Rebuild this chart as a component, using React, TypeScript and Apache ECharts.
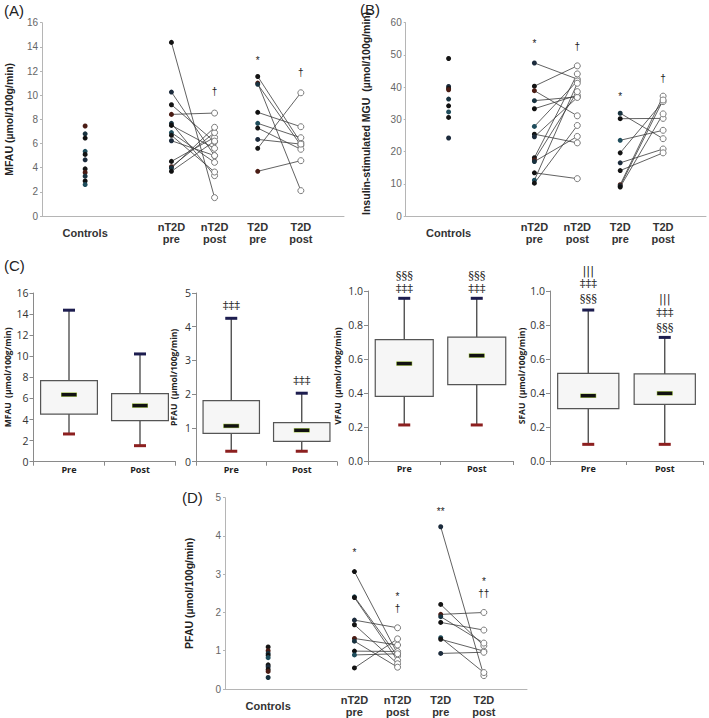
import React, { useEffect, useRef } from 'react';
import * as echarts from 'echarts';

// ---------- categories ----------
const groupCats = ['', 'Controls', '', 'nT2D\npre', 'nT2D\npost', 'T2D\npre', 'T2D\npost', ''];
const boxCats = ['Pre', 'Post'];

// ---------- Panel A: MFAU ----------
const aControls = [7.45, 6.8, 6.45, 5.35, 5.1, 4.65, 3.9, 3.6, 3.3, 2.9, 2.6];
const aNPre = [14.37, 10.26, 9.21, 8.41, 7.67, 7.5, 6.9, 6.68, 6.23, 4.52, 4.08, 3.97, 3.7];
const aNPost = [1.52, 4.99, 6.15, 8.52, 3.34, 5.6, 4.44, 3.64, 5.0, 6.51, 6.9, 7.34, 6.2];
const aTPre = [11.55, 11.0, 10.9, 8.58, 7.67, 7.28, 6.34, 5.6, 3.7];
const aTPost = [6.07, 2.1, 5.85, 7.39, 6.48, 5.52, 5.95, 10.2, 4.58];
const aMarkPos = [[5, 12.9], [4, 10.3], [6, 11.85]];
const aMarkText = ['*', '†', '†'];

// ---------- Panel B: insulin-stimulated MGU ----------
const bControls = [48.9, 40.2, 39.6, 39.2, 36.3, 34.2, 32.3, 30.6, 24.2];
const bNPre = [47.5, 40.3, 38.9, 35.8, 33.3, 27.8, 25.4, 24.6, 18.1, 17.4, 16.9, 13.4, 11.1, 10.2];
const bNPost = [42.5, 46.6, 31.1, 37.0, 37.5, 41.9, 22.7, 36.8, 44.1, 38.6, 24.7, 11.6, 41.2, 28.1];
const bTPre = [31.9, 30.2, 23.5, 19.6, 16.5, 14.1, 9.7, 9.3, 9.0];
const bTPost = [24.0, 30.3, 26.6, 35.5, 20.8, 19.6, 37.2, 36.0, 31.7];
const bMarkPos = [[3, 53.5], [4, 52.5], [5, 37], [6, 42.6]];
const bMarkText = ['*', '†', '*', '†'];

// ---------- Panel C: box plots [min, q1, median, q3, max] ----------
const mfauBox = [[2.63, 4.52, 6.36, 7.69, 14.37], [1.52, 3.89, 5.32, 6.46, 10.22]];
const pfauBox = [[0.31, 0.84, 1.06, 1.81, 4.25], [0.31, 0.6, 0.93, 1.16, 2.03]];
const vfauBox = [[0.212, 0.38, 0.573, 0.714, 0.957], [0.212, 0.449, 0.62, 0.729, 0.957]];
const sfauBox = [[0.098, 0.308, 0.384, 0.516, 0.888], [0.098, 0.333, 0.398, 0.512, 0.727]];
const pfauMarkPos = [[0, 4.65], [1, 2.42]];
const pfauMarkText = ['‡‡‡', '‡‡‡'];
const vfauMarkPos = [[0, 1.094], [0, 1.018], [1, 1.094], [1, 1.018]];
const vfauMarkText = ['§§§', '‡‡‡', '§§§', '‡‡‡'];
const sfauMarkPos = [[0, 1.124], [0, 1.045], [0, 0.958], [1, 0.958], [1, 0.876], [1, 0.79]];
const sfauMarkText = ['|||', '‡‡‡', '§§§', '|||', '‡‡‡', '§§§'];

// ---------- Panel D: PFAU ----------
const dControls = [1.1, 1.0, 0.93, 0.88, 0.82, 0.63, 0.58, 0.51, 0.46, 0.3];
const dNPre = [3.07, 2.41, 2.39, 1.8, 1.68, 1.32, 1.25, 0.99, 0.89, 0.55];
const dNPost = [0.92, 0.86, 0.75, 1.6, 0.66, 1.15, 0.57, 0.98, 0.92, 1.31];
const dTPre = [4.24, 2.21, 1.95, 1.89, 1.74, 1.34, 1.3, 0.93];
const dTPost = [0.35, 1.13, 2.0, 1.2, 1.54, 0.43, 0.99, 0.96];
const dMarkPos = [[3, 3.57], [4, 2.43], [4, 2.1], [5, 4.64], [6, 2.8], [6, 2.5]];
const dMarkText = ['*', '*', '†', '**', '*', '††'];

// ---------- styles ----------
const dotPalette = ['#141414', '#1c2b3c', '#151515', '#4a1c14', '#18323f', '#101010', '#1f4d5c'];
const SANS = 'Liberation Sans';
const BOXFONT = 'Open Sans';

function scatterAxes(gi: number, max: number, interval: number, name: string, nameGap: number, namePad: number) {
  const x = {
    gridIndex: gi,
    type: 'category',
    data: groupCats,
    boundaryGap: false,
    axisLine: { lineStyle: { color: '#b5b5b5' } },
    axisTick: { show: false },
    axisLabel: {
      interval: 0,
      fontFamily: SANS,
      fontWeight: 'bold',
      fontSize: 11,
      color: '#333',
      lineHeight: 12,
      verticalAlign: 'middle',
      margin: 17,
    },
  };
  const y = {
    gridIndex: gi,
    type: 'value',
    min: 0,
    max,
    interval,
    axisLine: { show: true, lineStyle: { color: '#b5b5b5' } },
    axisTick: { show: true, length: 2, lineStyle: { color: '#b5b5b5' } },
    splitLine: { show: false },
    axisLabel: { fontFamily: SANS, fontSize: 10, color: '#666', margin: 4 },
    name,
    nameLocation: 'middle',
    nameGap,
    nameTextStyle: {
      fontFamily: SANS,
      fontWeight: 'bold',
      fontSize: 10.5,
      color: '#222',
      padding: [0, 0, 0, namePad],
    },
  };
  return { x, y };
}

function pairLines(gi: number, xPre: number, pre: number[], post: number[]) {
  return {
    type: 'custom',
    xAxisIndex: gi,
    yAxisIndex: gi,
    z: 1,
    data: pre.map((v, i) => [xPre, v, xPre + 1, post[i]]),
    renderItem: (params: any, api: any) => {
      const p1 = api.coord([api.value(0), api.value(1)]);
      const p2 = api.coord([api.value(2), api.value(3)]);
      return {
        type: 'line',
        shape: { x1: p1[0], y1: p1[1], x2: p2[0], y2: p2[1] },
        style: { stroke: '#3a3a3a', lineWidth: 0.8 },
      };
    },
  };
}

function filledDots(gi: number, x: number, vals: number[], offset: number) {
  return {
    type: 'scatter',
    xAxisIndex: gi,
    yAxisIndex: gi,
    z: 3,
    symbol: 'circle',
    symbolSize: 5,
    data: vals.map((v) => [x, v]),
    itemStyle: {
      color: (p: any) => dotPalette[(p.dataIndex + offset) % dotPalette.length],
      opacity: 1,
    },
  };
}

function hollowDots(gi: number, x: number, vals: number[]) {
  return {
    type: 'scatter',
    xAxisIndex: gi,
    yAxisIndex: gi,
    z: 3,
    symbol: 'circle',
    symbolSize: 6,
    data: vals.map((v) => [x, v]),
    itemStyle: { color: '#ffffff', borderColor: '#7a7a7a', borderWidth: 1, opacity: 1 },
  };
}

function marks(gi: number, pos: number[][], texts: string[], font: string, color: string) {
  return {
    type: 'custom',
    xAxisIndex: gi,
    yAxisIndex: gi,
    z: 4,
    clip: false,
    data: pos,
    renderItem: (params: any, api: any) => {
      const p = api.coord([api.value(0), api.value(1)]);
      return {
        type: 'text',
        x: p[0],
        y: p[1],
        style: {
          text: texts[params.dataIndex],
          align: 'center',
          verticalAlign: 'middle',
          font,
          fill: color,
        },
      };
    },
  };
}

function boxSeries(gi: number, boxes: number[][]) {
  return {
    type: 'custom',
    xAxisIndex: gi,
    yAxisIndex: gi,
    z: 2,
    data: boxes.map((b, i) => [i, ...b]),
    renderItem: (params: any, api: any) => {
      const c = api.value(0);
      const pMin = api.coord([c, api.value(1)]);
      const pQ1 = api.coord([c, api.value(2)]);
      const pMed = api.coord([c, api.value(3)]);
      const pQ3 = api.coord([c, api.value(4)]);
      const pMax = api.coord([c, api.value(5)]);
      const band = api.size([1, 0])[0];
      const bw = band * 0.8;
      const x = pMin[0];
      return {
        type: 'group',
        children: [
          {
            type: 'line',
            shape: { x1: x, y1: pMax[1], x2: x, y2: pMin[1] },
            style: { stroke: '#444', lineWidth: 1.3 },
          },
          {
            type: 'rect',
            shape: { x: x - bw / 2, y: pQ3[1], width: bw, height: pQ1[1] - pQ3[1] },
            style: { fill: '#f6f6f6', stroke: '#555', lineWidth: 1.2 },
          },
          {
            type: 'line',
            shape: { x1: x - 6, y1: pMax[1], x2: x + 6, y2: pMax[1] },
            style: { stroke: '#1d1d4f', lineWidth: 3 },
          },
          {
            type: 'line',
            shape: { x1: x - 6, y1: pMin[1], x2: x + 6, y2: pMin[1] },
            style: { stroke: '#8c1f1f', lineWidth: 3 },
          },
          {
            type: 'line',
            shape: { x1: x - 8, y1: pMed[1], x2: x + 8, y2: pMed[1] },
            style: { stroke: '#a4c64a', lineWidth: 4.4 },
          },
          {
            type: 'line',
            shape: { x1: x - 7.5, y1: pMed[1], x2: x + 7.5, y2: pMed[1] },
            style: { stroke: '#111', lineWidth: 3.4 },
          },
        ],
      };
    },
  };
}

function boxAxes(gi: number, max: number, interval: number, decimals: number, name: string, nameGap: number) {
  const x = {
    gridIndex: gi,
    type: 'category',
    data: boxCats,
    boundaryGap: true,
    axisLine: { lineStyle: { color: '#8a8a8a' } },
    axisTick: { show: true, length: 4, alignWithLabel: false, lineStyle: { color: '#8a8a8a' } },
    axisLabel: { fontFamily: BOXFONT, fontWeight: 'bold', fontSize: 9, color: '#222', margin: 3 },
  };
  const y = {
    gridIndex: gi,
    type: 'value',
    min: 0,
    max,
    interval,
    axisLine: { show: true, lineStyle: { color: '#8a8a8a' } },
    axisTick: { show: true, length: 4, lineStyle: { color: '#8a8a8a' } },
    splitLine: { show: false },
    axisLabel: {
      fontFamily: BOXFONT,
      fontSize: 10.5,
      color: '#333',
      margin: 5,
      formatter: (v: number) => v.toFixed(decimals),
    },
    name,
    nameLocation: 'middle',
    nameGap,
    nameTextStyle: { fontFamily: BOXFONT, fontWeight: 'bold', fontSize: 8.5, color: '#222' },
  };
  return { x, y };
}

export default function App() {
  const ref = useRef<HTMLDivElement>(null);
  useEffect(() => {
    if (!ref.current) return;
    const chart = echarts.init(ref.current, undefined, { renderer: 'svg' });

    const A = scatterAxes(0, 16, 2, 'MFAU (µmol/100g/min)', 28, 0);
    const B = scatterAxes(1, 60, 10, 'Insulin-stimulated MGU  (µmol/100g/min)', 34, 12);
    const C1 = boxAxes(2, 16, 2, 0, 'MFAU  (µmol/100g/min)', 22);
    const C2 = boxAxes(3, 5, 1, 0, 'PFAU  (µmol/100g/min)', 18);
    const C3 = boxAxes(4, 1, 0.2, 1, 'VFAU  (µmol/100g/min)', 26);
    const C4 = boxAxes(5, 1, 0.2, 1, 'SFAU  (µmol/100g/min)', 21);
    const D = scatterAxes(6, 5, 1, 'PFAU (µmol/100g/min)', 31, 0);

    const markFontA = `10px ${SANS}`;
    const markFontC = `11.5px "DejaVu Serif"`;

    const option: any = {
      animation: false,
      backgroundColor: '#ffffff',
      grid: [
        { left: 42, top: 22.7, width: 302, height: 193.3 },
        { left: 405.7, top: 22.7, width: 302, height: 193.3 },
        { left: 33.5, top: 293, width: 142, height: 168.7 },
        { left: 196, top: 293, width: 141, height: 168.7 },
        { left: 368, top: 291, width: 145, height: 170 },
        { left: 550, top: 291, width: 153, height: 170 },
        { left: 225, top: 497.7, width: 302, height: 194 },
      ],
      xAxis: [A.x, B.x, C1.x, C2.x, C3.x, C4.x, D.x],
      yAxis: [A.y, B.y, C1.y, C2.y, C3.y, C4.y, D.y],
      graphic: [
        { type: 'text', left: 4, top: 3, style: { text: '(A)', font: `15px ${SANS}`, fill: '#222' } },
        { type: 'text', left: 360, top: 2, style: { text: '(B)', font: `15px ${SANS}`, fill: '#222' } },
        { type: 'text', left: 4, top: 258, style: { text: '(C)', font: `15px ${SANS}`, fill: '#222' } },
        { type: 'text', left: 182, top: 490, style: { text: '(D)', font: `15px ${SANS}`, fill: '#222' } },
      ],
      series: [
        // A
        pairLines(0, 3, aNPre, aNPost),
        pairLines(0, 5, aTPre, aTPost),
        filledDots(0, 1, aControls, 3),
        filledDots(0, 3, aNPre, 0),
        filledDots(0, 5, aTPre, 2),
        hollowDots(0, 4, aNPost),
        hollowDots(0, 6, aTPost),
        marks(0, aMarkPos, aMarkText, markFontA, '#222'),
        // B
        pairLines(1, 3, bNPre, bNPost),
        pairLines(1, 5, bTPre, bTPost),
        filledDots(1, 1, bControls, 0),
        filledDots(1, 3, bNPre, 1),
        filledDots(1, 5, bTPre, 4),
        hollowDots(1, 4, bNPost),
        hollowDots(1, 6, bTPost),
        marks(1, bMarkPos, bMarkText, markFontA, '#222'),
        // C
        boxSeries(2, mfauBox),
        boxSeries(3, pfauBox),
        boxSeries(4, vfauBox),
        boxSeries(5, sfauBox),
        marks(3, pfauMarkPos, pfauMarkText, markFontC, '#222'),
        marks(4, vfauMarkPos, vfauMarkText, markFontC, '#222'),
        marks(5, sfauMarkPos, sfauMarkText, markFontC, '#222'),
        // D
        pairLines(6, 3, dNPre, dNPost),
        pairLines(6, 5, dTPre, dTPost),
        filledDots(6, 1, dControls, 2),
        filledDots(6, 3, dNPre, 5),
        filledDots(6, 5, dTPre, 1),
        hollowDots(6, 4, dNPost),
        hollowDots(6, 6, dTPost),
        marks(6, dMarkPos, dMarkText, markFontA, '#222'),
      ],
    };
    chart.setOption(option);
    return () => chart.dispose();
  }, []);

  return (
    <div
      ref={ref}
      style={{ position: 'fixed', left: 0, top: 0, width: 709, height: 718, background: '#fff' }}
    />
  );
}
